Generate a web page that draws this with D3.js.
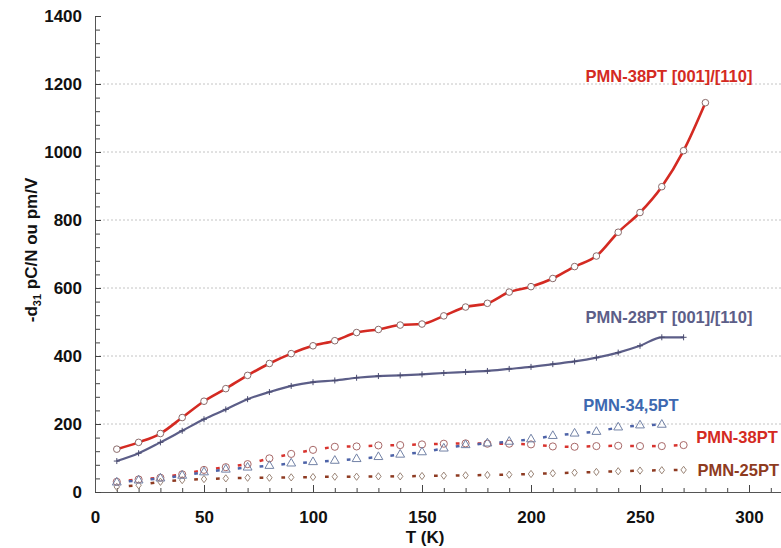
<!DOCTYPE html>
<html>
<head>
<meta charset="utf-8">
<script src="https://cdn.jsdelivr.net/npm/d3@7"></script>
<style>
  body { margin: 0; background: #fff; }
  svg text { font-family: "Liberation Sans", Arial, sans-serif; font-weight: bold; }
</style>
</head>
<body>
<div id="chart"></div>
<script>
// temperatures (K)
const tempsA = [10,20,30,40,50,60,70,80,90,100,110,120,130,140,150,160,170,180,190,200,210,220,230,240,250,260,270,280];
const pmn38_001 = [126,146,172,219,267,304,343,378,407,430,445,469,478,491,494,518,544,555,588,604,628,663,694,764,822,898,1004,1145];

const tempsB = tempsA.slice(0, 27);
const pmn28_001 = [91,114,146,180,214,243,273,294,312,323,328,336,341,343,346,350,353,356,362,368,376,384,395,410,430,455,455];

const pmn38 = [30,37,42,52,65,73,82,99,112,124,133,134,137,138,140,142,143,142,142,140,134,133,135,136,135,135,138];

const tempsC = tempsA.slice(0, 26);
const pmn345 = [28,34,40,48,58,66,72,77,84,88,92,97,103,110,117,128,138,143,148,155,165,172,177,190,196,198];

const pmn25 = [15,20,30,35,38,40,42,42,43,44,45,45,46,46,47,48,49,50,51,53,55,57,59,61,63,64,65];

const yTicks = [0,200,400,600,800,1000,1200,1400];
const xTicks = [0,50,100,150,200,250,300];

const W = 781, H = 548;
const mLeft = 95, mTop = 16, mBottom = 492;

const svg = d3.select("#chart").append("svg")
  .attr("width", W).attr("height", H);

const x = d3.scaleLinear().domain([0, 315]).range([mLeft, mLeft + 2.18 * 315]);
const y = d3.scaleLinear().domain([0, 1400]).range([mBottom, mTop]);

// grid lines
svg.append("g").selectAll("line")
  .data(yTicks.filter(d => d > 0 && d < 1400))
  .enter().append("line")
  .attr("x1", mLeft).attr("x2", W)
  .attr("y1", d => y(d)).attr("y2", d => y(d))
  .attr("stroke", "#c4c4c4").attr("stroke-dasharray", "2,2");

// minor ticks
svg.append("g")
  .attr("transform", `translate(0,${mBottom})`)
  .call(d3.axisBottom(x).tickValues(d3.range(10, 315, 10)).tickSize(-4).tickFormat(""))
  .call(g => g.select(".domain").remove())
  .selectAll("line").attr("stroke", "#444");
svg.append("g")
  .attr("transform", `translate(${mLeft},0)`)
  .call(d3.axisLeft(y).tickValues(d3.range(40, 1400, 40)).tickSize(-5).tickFormat(""))
  .call(g => g.select(".domain").remove())
  .selectAll("line").attr("stroke", "#444");

// main axes
const xAxis = svg.append("g")
  .attr("transform", `translate(0,${mBottom})`)
  .call(d3.axisBottom(x).tickValues(xTicks).tickSize(-7).tickSizeOuter(0).tickPadding(19).tickFormat(d3.format("d")));
const yAxis = svg.append("g")
  .attr("transform", `translate(${mLeft},0)`)
  .call(d3.axisLeft(y).tickValues(yTicks).tickSize(-6).tickSizeOuter(0).tickPadding(13).tickFormat(d3.format("d")));
[xAxis, yAxis].forEach(g => {
  g.select(".domain").attr("stroke", "#555");
  g.selectAll("line").attr("stroke", "#444");
  g.selectAll("text").attr("font-size", 17).attr("fill", "#111");
});

// axis titles
svg.append("text")
  .attr("x", 425).attr("y", 543)
  .attr("text-anchor", "middle").attr("font-size", 17).attr("fill", "#111")
  .text("T (K)");
const yt = svg.append("text")
  .attr("transform", "translate(37,250) rotate(-90)")
  .attr("text-anchor", "middle").attr("font-size", 17).attr("fill", "#111");
yt.append("tspan").text("-d");
yt.append("tspan").attr("font-size", 11).attr("dy", 4).text("31");
yt.append("tspan").attr("dy", -4).text(" pC/N ou pm/V");

// lower dashed series
function dashed(temps, vals, dashColor, markColor, shape) {
  const pts = temps.map((t, i) => [x(t), y(vals[i])]);
  const g = svg.append("g");
  g.selectAll("line").data(pts.slice(1)).enter().append("line")
    .attr("x1", (d, i) => pts[i][0] + 0.55 * (d[0] - pts[i][0]))
    .attr("y1", (d, i) => pts[i][1] + 0.55 * (d[1] - pts[i][1]))
    .attr("x2", (d, i) => pts[i][0] + 0.72 * (d[0] - pts[i][0]))
    .attr("y2", (d, i) => pts[i][1] + 0.72 * (d[1] - pts[i][1]))
    .attr("stroke", dashColor).attr("stroke-width", 2.5);
  g.selectAll("path").data(pts).enter().append("path")
    .attr("transform", d => `translate(${d[0]},${d[1]})`)
    .attr("d", d3.symbol().type(shape).size(shape === d3.symbolCircle ? 40 : 34))
    .attr("fill", "none").attr("stroke", markColor).attr("stroke-width", 1);
}
const diamond = { draw(ctx, size) { const r = Math.sqrt(size) * 0.62; ctx.moveTo(0, -r); ctx.lineTo(r * 0.75, 0); ctx.lineTo(0, r); ctx.lineTo(-r * 0.75, 0); ctx.closePath(); } };
dashed(tempsB, pmn25, "#8e3b22", "#9a8476", diamond);
dashed(tempsB, pmn38, "#d8332e", "#a86868", d3.symbolCircle);
dashed(tempsC, pmn345, "#4d63a8", "#7282a6", d3.symbolTriangle);

// PMN-28PT [001]/[110]
const line = d3.line().x(d => x(d[0])).y(d => y(d[1])).curve(d3.curveMonotoneX);
const s28 = tempsB.map((t, i) => [t, pmn28_001[i]]);
svg.append("path").datum(s28).attr("d", line)
  .attr("fill", "none").attr("stroke", "#5c5e88").attr("stroke-width", 2.2);
svg.append("g").selectAll("path").data(s28).enter().append("path")
  .attr("transform", d => `translate(${x(d[0])},${y(d[1])})`)
  .attr("d", "M-3,0H3M0,-3V3")
  .attr("stroke", "#4a4c70").attr("stroke-width", 1);

// PMN-38PT [001]/[110]
const s38 = tempsA.map((t, i) => [t, pmn38_001[i]]);
svg.append("path").datum(s38).attr("d", line)
  .attr("fill", "none").attr("stroke", "#d42a22").attr("stroke-width", 2.6);
svg.append("g").selectAll("circle").data(s38).enter().append("circle")
  .attr("cx", d => x(d[0])).attr("cy", d => y(d[1])).attr("r", 3.3)
  .attr("fill", "#fff").attr("stroke", "#8a6a6a").attr("stroke-width", 1);

// series labels
const labels = [
  { text: "PMN-38PT [001]/[110]", x: 669, y: 82, color: "#d42a22", anchor: "middle" },
  { text: "PMN-28PT [001]/[110]", x: 669, y: 323, color: "#5c5e88", anchor: "middle" },
  { text: "PMN-34,5PT", x: 631, y: 411, color: "#3d68b0", anchor: "middle" },
  { text: "PMN-38PT", x: 737, y: 443, color: "#d42a22", anchor: "middle" },
  { text: "PMN-25PT", x: 779, y: 476, color: "#8e3b1e", anchor: "end" }
];
svg.append("g").selectAll("text").data(labels).enter().append("text")
  .attr("x", d => d.x).attr("y", d => d.y)
  .attr("text-anchor", d => d.anchor).attr("font-size", 16.5)
  .attr("fill", d => d.color).text(d => d.text);
</script>
</body>
</html>
